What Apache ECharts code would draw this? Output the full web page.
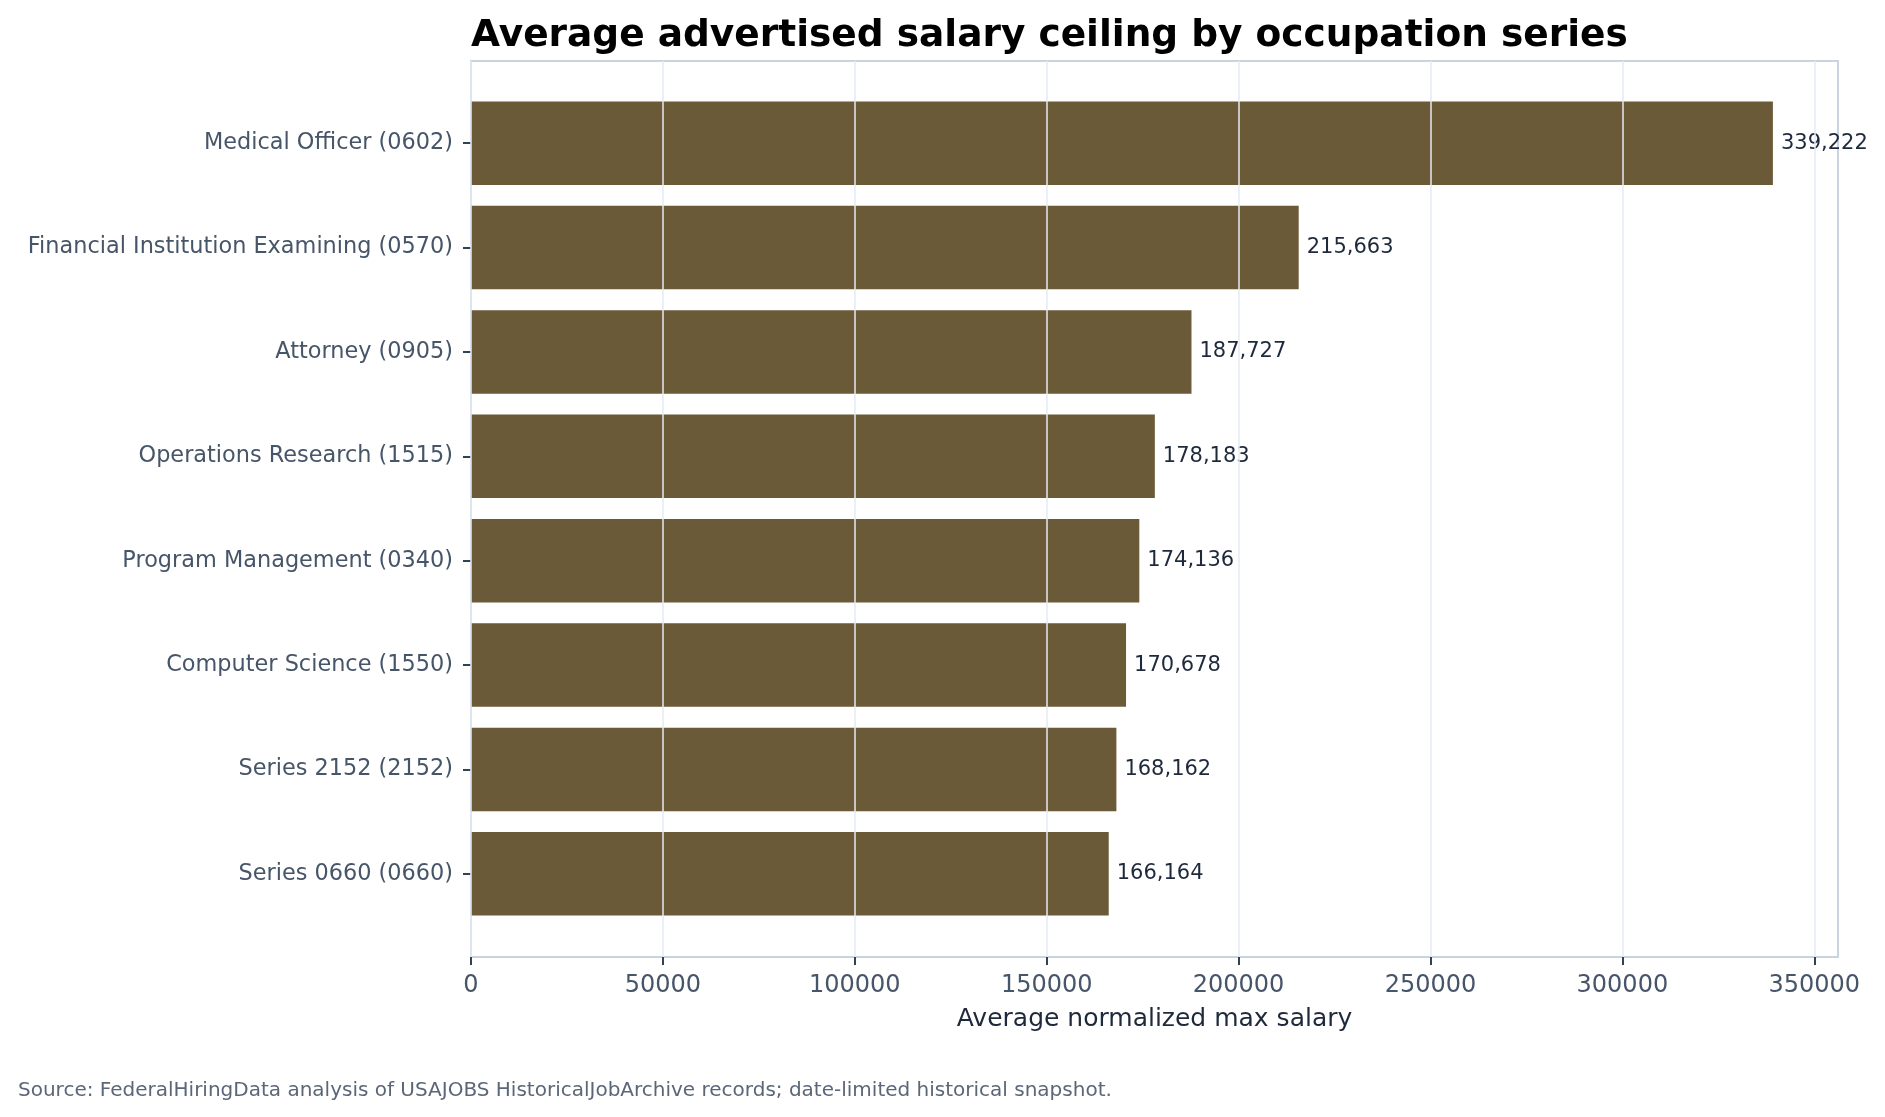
<!DOCTYPE html>
<html lang="en">
<head>
	<meta charset="UTF-8">
	<title>Average advertised salary ceiling</title>
	<script src="https://cdn.jsdelivr.net/npm/echarts@6/dist/echarts.min.js"></script>
	<style>
		html,body{margin:0;padding:0;background:#fff;}
		#chart{width:1885px;height:1117px;}
	</style>
</head>
<body>
	<div id="chart"></div>
	<script>
	// data, top bar first
	var occupations = [
		'Medical Officer (0602)',
		'Financial Institution Examining (0570)',
		'Attorney (0905)',
		'Operations Research (1515)',
		'Program Management (0340)',
		'Computer Science (1550)',
		'Series 2152 (2152)',
		'Series 0660 (0660)'
	];
	var maxSalary = [339222, 215663, 187727, 178183, 174136, 170678, 168162, 166164];
	var xTicks = [0, 50000, 100000, 150000, 200000, 250000, 300000, 350000];

	var titleText = 'Average advertised salary ceiling by occupation series';
	var xName = 'Average normalized max salary';
	var sourceText = 'Source: FederalHiringData analysis of USAJOBS HistoricalJobArchive records; date-limited historical snapshot.';

	var font = 'DejaVu Sans';
	var xMax = 356183; // 5% padding past the longest bar

	var myChart = echarts.init(document.getElementById('chart'));

	var option = {
		animation: false,
		title: [{
			text: titleText,
			left: 471,
			top: 17,
			padding: 0,
			textStyle: {fontFamily: font, fontSize: 37.5, fontWeight: 'bold', color: '#000'}
		}, {
			text: sourceText,
			left: 18,
			top: 1081,
			padding: 0,
			textStyle: {fontFamily: font, fontSize: 20, fontWeight: 'normal', color: '#5b6779'}
		}],
		grid: [
			// bars sit inside, matching the padded category range
			{left: 471, top: 91, width: 1367, height: 835},
			// outer frame, carries the visible x axis
			{left: 471, top: 61, width: 1367, height: 896, show: true, borderColor: '#c9d4e0', borderWidth: 2}
		],
		xAxis: [{
			gridIndex: 0,
			type: 'value',
			min: 0,
			max: xMax,
			show: false
		}, {
			gridIndex: 1,
			type: 'value',
			min: 0,
			max: xMax,
			interval: 50000,
			z: 3,
			name: xName,
			nameLocation: 'middle',
			nameGap: 50,
			nameTextStyle: {fontFamily: font, fontSize: 25, color: '#1e293b'},
			axisLine: {show: false},
			axisTick: {show: true, length: 8, customValues: xTicks, lineStyle: {color: '#334155', width: 2}},
			axisLabel: {
				customValues: xTicks,
				margin: 17,
				fontFamily: font,
				fontSize: 24,
				color: '#475569',
				formatter: function (v) { return String(v); }
			},
			splitLine: {show: true, lineStyle: {color: '#e4ebf3', width: 1.5}}
		}],
		yAxis: [{
			gridIndex: 0,
			type: 'category',
			inverse: true,
			data: occupations,
			axisLine: {show: false},
			axisTick: {show: true, alignWithLabel: true, length: 8, lineStyle: {color: '#334155', width: 2}},
			axisLabel: {margin: 18, padding: [9, 0, 0, 0], fontFamily: font, fontSize: 22.4, color: '#475569'},
			splitLine: {show: false}
		}, {
			gridIndex: 1,
			type: 'value',
			show: false,
			splitLine: {show: false}
		}],
		series: [{
			name: 'Average normalized max salary',
			type: 'bar',
			xAxisIndex: 0,
			yAxisIndex: 0,
			data: maxSalary,
			barWidth: '80%',
			itemStyle: {color: '#6b5a37'},
			label: {
				show: true,
				position: 'right',
				distance: 8,
				fontFamily: font,
				fontSize: 21,
				color: '#1e293b',
				formatter: function (p) {
					return p.value.toLocaleString('en-US');
				}
			}
		}]
	};

	myChart.setOption(option);
	</script>
</body>
</html>
